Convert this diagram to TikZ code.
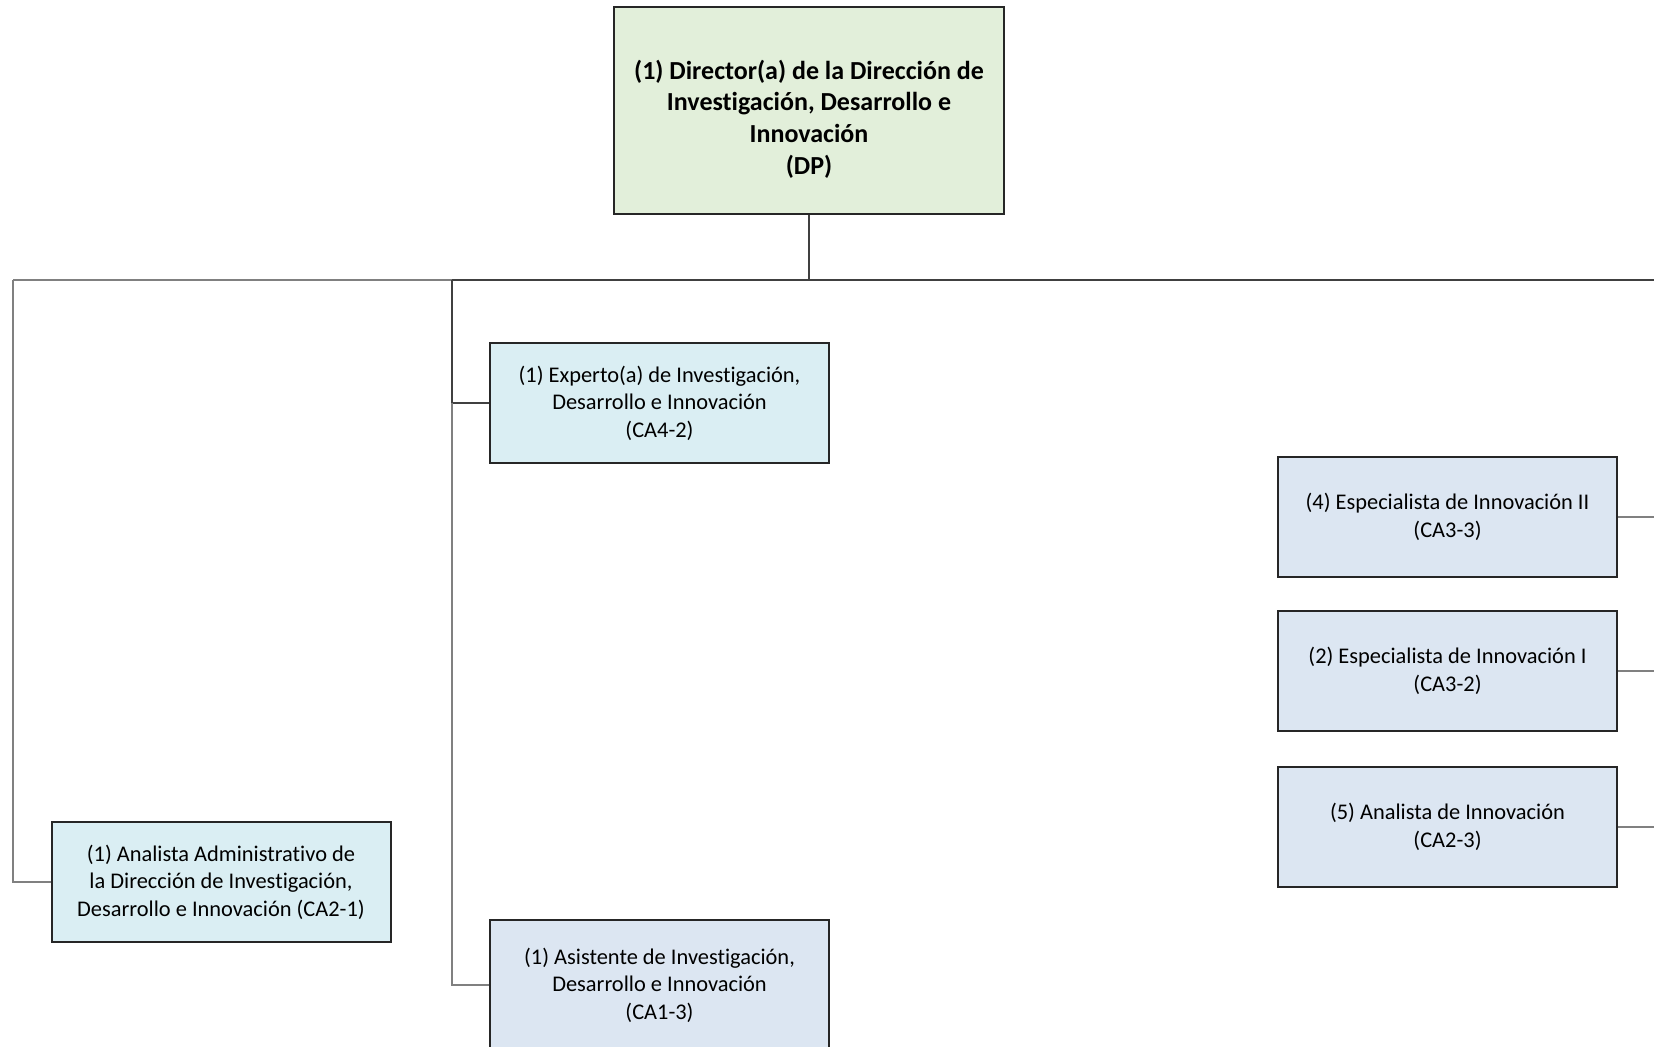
\documentclass[tikz,border=0pt]{standalone}
\usepackage{fontspec}
\setmainfont{Carlito}[Ligatures=NoCommon]
\usetikzlibrary{positioning}
\definecolor{dirgreen}{HTML}{E2EFDA}
\definecolor{posblue}{HTML}{DCE6F2}
\definecolor{poscyan}{HTML}{DAEEF3}

\begin{document}
\begin{tikzpicture}[
    x=0.5pt, y=-0.5pt,
    boxdir/.style={rectangle, draw=black!85, fill=dirgreen, line width=1pt, minimum width=195pt, minimum height=103.5pt, inner sep=0pt},
    dirtext/.style={align=center, font=\fontsize{13}{15.8}\selectfont\bfseries, inner sep=0pt},
    boxpos/.style={rectangle, draw=black!85, fill=posblue, line width=1pt, minimum width=169.5pt, minimum height=60pt, align=center, font=\fontsize{11.2}{13.7}\selectfont, inner sep=3pt},
    boxcyan/.style={boxpos, fill=poscyan},
    conn/.style={draw=black!75, line width=0.7pt},
    connlt/.style={draw=black!50, line width=0.7pt}
]
    \useasboundingbox (0,0) rectangle (1654,1047);
    \clip (0,0) rectangle (1654,1047);

    % director
    \node[boxdir] (dir) at (809, 110.5) {};
    \node[dirtext] (dirlabel) at (809, 119) {(1) Director(a) de la Dirección de\\Investigación, Desarrollo e\\Innovación\\(DP)};

    % middle column
    \node[boxcyan] (exp) at (659.5, 403) {(1) Experto(a) de Investigación,\\Desarrollo e Innovación\\(CA4-2)};
    \node[boxpos, minimum height=65pt] (asis) at (659.5, 985) {(1) Asistente de Investigación,\\Desarrollo e Innovación\\(CA1-3)};

    % left column
    \node[boxcyan] (adm) at (221, 882) {(1) Analista Administrativo de\\la Dirección de Investigación,\\Desarrollo e Innovación (CA2-1)};

    % right column
    \node[boxpos] (esp2) at (1447.5, 517) {(4) Especialista de Innovación II\\(CA3-3)};
    \node[boxpos] (esp1) [below=16pt of esp2] {(2) Especialista de Innovación I\\(CA3-2)};
    \node[boxpos] (ana) [below=17pt of esp1] {(5) Analista de Innovación\\(CA2-3)};

    % buses
    \coordinate (top) at (809, 280);
    \coordinate (lbus) at (13, 280);
    \coordinate (mbus) at (452, 280);
    \coordinate (rbus) at (1700, 280);

    \draw[conn] (dir.south) -- (top);
    \draw[conn] (top) -- (rbus);
    \draw[conn] (top) -- (mbus);
    \draw[connlt] (mbus) -- (lbus);

    \draw[connlt] (lbus) |- (adm.west);
    \draw[conn] (mbus) |- (exp.west);
    \draw[connlt] (exp.west -| mbus) |- (asis.west);

    \draw[conn] (rbus) |- (ana.east);
    \draw[connlt] (esp2.east) -- (esp2.east -| rbus);
    \draw[connlt] (esp1.east) -- (esp1.east -| rbus);
    \draw[connlt] (ana.east) -- (ana.east -| rbus);
\end{tikzpicture}
\end{document}
